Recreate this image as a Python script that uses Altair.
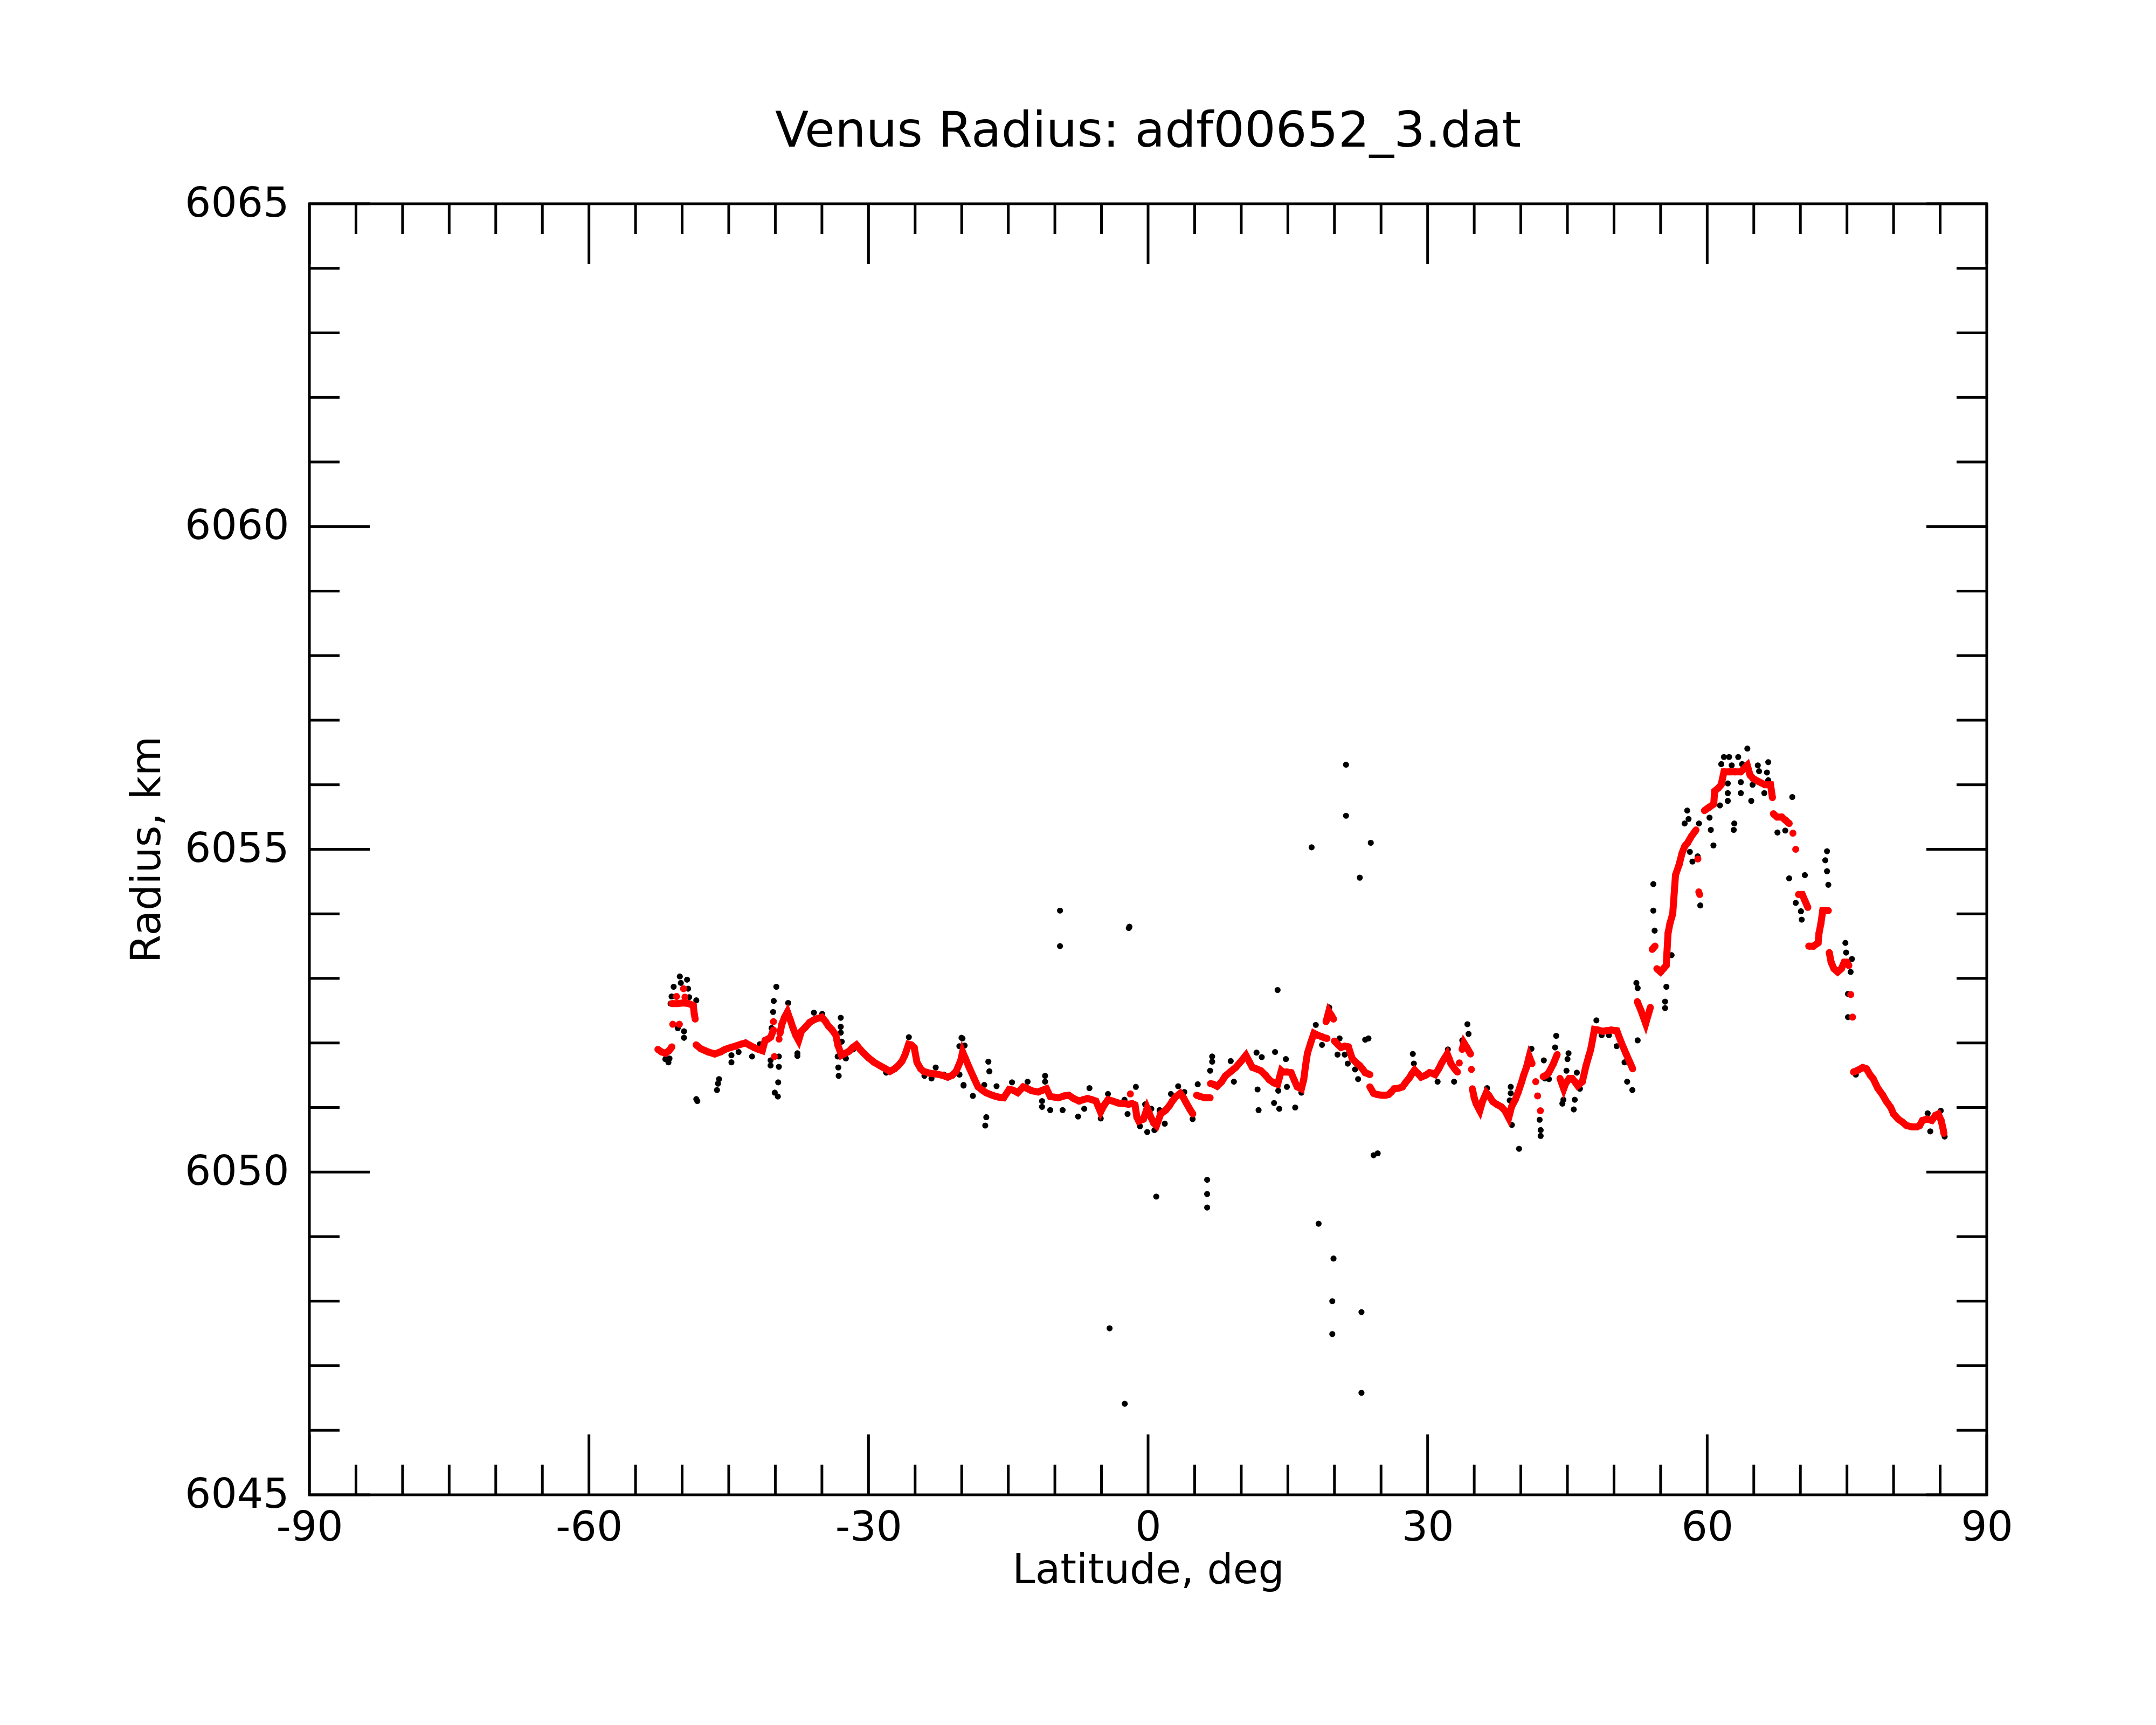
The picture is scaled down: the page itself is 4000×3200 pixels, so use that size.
import altair as alt
import pandas as pd

# ---------------- data ----------------
# filtered profile (red), broken into runs where the reference shows jumps
red_segments = [
    [(-52.6, 6051.90), (-52.2, 6051.86), (-51.8, 6051.84), (-51.4, 6051.88), (-51.1, 6051.94)],
    [(-51.0, 6052.29)], [(-50.3, 6052.29)],
    [(-51.1, 6052.61), (-50.5, 6052.61), (-49.9, 6052.62), (-49.3, 6052.61), (-48.8, 6052.58),
     (-48.7, 6052.45), (-48.6, 6052.37)],
    [(-50.6, 6052.72)], [(-49.7, 6052.71)], [(-49.85, 6052.84)],
    [(-48.5, 6051.97), (-48.0, 6051.91), (-47.2, 6051.86), (-46.5, 6051.83), (-45.9, 6051.86),
     (-45.4, 6051.90), (-44.8, 6051.93), (-44.3, 6051.95), (-43.7, 6051.98), (-43.2, 6052.00),
     (-42.7, 6051.96), (-42.3, 6051.93), (-41.8, 6051.90), (-41.4, 6051.88), (-41.1, 6052.04),
     (-40.8, 6052.06), (-40.5, 6052.09), (-40.2, 6052.20)],
    [(-40.2, 6052.33)], [(-40.1, 6051.79)], [(-39.6, 6052.06)],
    [(-39.5, 6052.15), (-39.3, 6052.29), (-39.0, 6052.40), (-38.7, 6052.48), (-38.4, 6052.36),
     (-38.1, 6052.23), (-37.8, 6052.12), (-37.5, 6052.04), (-37.2, 6052.18), (-36.8, 6052.24),
     (-36.3, 6052.32), (-35.7, 6052.37), (-35.0, 6052.40), (-34.6, 6052.33), (-34.3, 6052.26),
     (-33.9, 6052.20), (-33.5, 6052.12), (-33.3, 6051.97), (-32.9, 6051.81), (-32.5, 6051.84),
     (-32.1, 6051.87), (-31.7, 6051.93), (-31.3, 6051.97), (-30.9, 6051.90), (-30.5, 6051.84),
     (-30.0, 6051.77), (-29.4, 6051.70), (-28.8, 6051.65), (-28.3, 6051.61), (-27.7, 6051.56),
     (-27.2, 6051.60), (-26.8, 6051.65), (-26.4, 6051.72), (-26.1, 6051.81), (-25.7, 6051.98),
     (-25.4, 6051.97), (-25.1, 6051.93), (-24.8, 6051.70), (-24.4, 6051.60), (-24.1, 6051.56),
     (-23.4, 6051.53), (-22.8, 6051.52), (-22.1, 6051.50), (-21.5, 6051.47), (-21.0, 6051.50),
     (-20.6, 6051.56), (-20.1, 6051.73), (-19.9, 6051.86), (-19.6, 6051.76), (-19.2, 6051.62),
     (-18.7, 6051.46), (-18.25, 6051.32), (-17.8, 6051.27), (-17.4, 6051.23), (-16.9, 6051.20),
     (-16.5, 6051.18), (-16.0, 6051.16), (-15.5, 6051.15), (-14.9, 6051.28), (-14.5, 6051.27),
     (-14.0, 6051.23), (-13.4, 6051.32), (-12.9, 6051.29), (-12.5, 6051.26), (-11.8, 6051.24),
     (-11.3, 6051.27), (-10.9, 6051.29), (-10.5, 6051.17), (-10.0, 6051.16), (-9.6, 6051.15),
     (-9.0, 6051.18), (-8.5, 6051.19), (-8.0, 6051.14), (-7.4, 6051.10), (-7.0, 6051.12),
     (-6.5, 6051.14), (-6.0, 6051.12), (-5.6, 6051.10), (-5.1, 6050.93), (-4.7, 6051.04),
     (-4.3, 6051.12), (-3.8, 6051.10), (-3.2, 6051.07), (-2.6, 6051.06), (-2.1, 6051.05),
     (-1.7, 6051.06), (-1.4, 6051.04), (-1.2, 6050.85), (-1.0, 6050.79), (-0.5, 6050.82),
     (-0.1, 6050.99), (0.3, 6050.85), (0.6, 6050.76), (0.9, 6050.72), (1.35, 6050.90),
     (1.9, 6050.96), (2.3, 6051.03), (2.6, 6051.10), (3.0, 6051.17), (3.45, 6051.22),
     (3.8, 6051.15), (4.1, 6051.07), (4.5, 6050.97), (4.8, 6050.90)],
    [(-1.9, 6051.21)],
    [(5.2, 6051.19), (5.6, 6051.17), (6.1, 6051.15), (6.66, 6051.15)],
    [(6.7, 6051.37), (7.0, 6051.36), (7.4, 6051.33), (7.9, 6051.40), (8.3, 6051.49),
     (8.8, 6051.55), (9.4, 6051.62), (10.0, 6051.72), (10.5, 6051.81), (10.9, 6051.70),
     (11.2, 6051.62), (11.6, 6051.60), (12.1, 6051.57), (12.6, 6051.50), (13.0, 6051.43),
     (13.5, 6051.38), (13.9, 6051.36), (14.3, 6051.57), (14.46, 6051.55), (14.9, 6051.55),
     (15.35, 6051.54), (15.7, 6051.42), (16.0, 6051.32), (16.45, 6051.29), (16.7, 6051.43),
     (16.9, 6051.65), (17.1, 6051.84), (17.45, 6052.00), (17.8, 6052.15), (18.2, 6052.12),
     (18.6, 6052.10), (18.9, 6052.08), (19.2, 6052.07)],
    [(19.1, 6052.33), (19.4, 6052.49), (19.7, 6052.42), (19.9, 6052.37)],
    [(20.0, 6052.03), (20.4, 6051.97), (20.7, 6051.93), (21.1, 6051.95), (21.5, 6051.94),
     (21.9, 6051.76), (22.3, 6051.70), (22.7, 6051.65), (23.0, 6051.60), (23.3, 6051.54),
     (23.8, 6051.51)],
    [(23.8, 6051.32), (24.2, 6051.22), (24.6, 6051.20), (25.1, 6051.19), (25.5, 6051.19),
     (25.8, 6051.20), (26.1, 6051.24), (26.4, 6051.29), (26.9, 6051.30), (27.3, 6051.32),
     (27.7, 6051.40), (28.0, 6051.45), (28.3, 6051.52), (28.6, 6051.58), (29.0, 6051.52),
     (29.3, 6051.47), (29.8, 6051.50), (30.2, 6051.54), (30.5, 6051.53), (30.8, 6051.51),
     (31.2, 6051.60), (31.5, 6051.69), (31.8, 6051.76), (32.1, 6051.83), (32.3, 6051.76),
     (32.5, 6051.68), (32.9, 6051.60), (33.2, 6051.55)],
    [(33.4, 6051.69)],
    [(33.7, 6051.90), (33.9, 6052.00), (34.2, 6051.93), (34.6, 6051.83)],
    [(34.7, 6051.59)],
    [(34.8, 6051.29), (35.0, 6051.15), (35.2, 6051.06), (35.6, 6050.95), (35.9, 6051.10),
     (36.3, 6051.23), (36.6, 6051.18), (37.0, 6051.09), (37.4, 6051.05), (37.9, 6051.01),
     (38.3, 6050.95), (38.7, 6050.84), (39.0, 6051.01), (39.4, 6051.12), (39.7, 6051.23),
     (40.1, 6051.40), (40.3, 6051.50), (40.6, 6051.62), (40.9, 6051.79), (41.2, 6051.68)],
    [(41.6, 6051.40)], [(41.8, 6051.18)], [(42.1, 6050.95)],
    [(42.4, 6051.48), (42.7, 6051.50), (43.0, 6051.54), (43.5, 6051.68), (43.9, 6051.82)],
    [(44.2, 6051.45), (44.6, 6051.29), (44.8, 6051.37), (45.2, 6051.45), (45.5, 6051.45),
     (45.8, 6051.40), (46.1, 6051.34), (46.6, 6051.40), (47.0, 6051.65), (47.3, 6051.80),
     (47.5, 6051.90), (47.7, 6052.05), (47.9, 6052.21), (48.3, 6052.20), (48.8, 6052.18),
     (49.2, 6052.19), (49.7, 6052.20), (50.3, 6052.19), (50.8, 6052.00), (51.3, 6051.83),
     (51.7, 6051.70), (52.0, 6051.60)],
    [(52.5, 6052.64), (52.9, 6052.50), (53.4, 6052.30), (53.9, 6052.55)],
    [(54.1, 6053.45), (54.4, 6053.50)],
    [(54.6, 6053.15), (55.0, 6053.10), (55.3, 6053.15), (55.6, 6053.20), (55.8, 6053.70),
     (56.0, 6053.85), (56.3, 6054.00), (56.5, 6054.40), (56.6, 6054.60), (57.0, 6054.77),
     (57.3, 6054.94), (57.6, 6055.05), (57.9, 6055.10), (58.3, 6055.20), (58.8, 6055.30)],
    [(59.0, 6054.85)], [(59.1, 6054.34)], [(59.2, 6054.30)],
    [(59.7, 6055.60), (60.2, 6055.65), (60.7, 6055.70), (60.8, 6055.90), (61.2, 6055.95),
     (61.5, 6056.00), (61.8, 6056.20), (62.4, 6056.20), (63.0, 6056.20), (63.6, 6056.20),
     (64.3, 6056.30), (64.6, 6056.15), (64.9, 6056.10), (65.5, 6056.05), (66.2, 6056.00),
     (66.8, 6056.00), (67.0, 6055.80)],
    [(67.1, 6055.55), (67.5, 6055.50), (68.0, 6055.50), (68.4, 6055.45), (68.8, 6055.40)],
    [(69.2, 6055.25)], [(69.5, 6055.00)],
    [(69.8, 6054.30), (70.2, 6054.30), (70.5, 6054.20), (70.8, 6054.10)],
    [(70.9, 6053.50), (71.4, 6053.50), (71.9, 6053.55), (72.0, 6053.70), (72.2, 6053.85),
     (72.4, 6054.05), (72.7, 6054.05), (73.0, 6054.05)],
    [(73.1, 6053.40), (73.3, 6053.25), (73.6, 6053.15), (74.0, 6053.10), (74.4, 6053.15),
     (74.7, 6053.25), (75.0, 6053.25), (75.2, 6053.20)],
    [(75.4, 6052.75)], [(75.6, 6052.40)],
    [(75.7, 6051.55), (76.2, 6051.58), (76.7, 6051.62), (77.1, 6051.60), (77.5, 6051.50),
     (77.8, 6051.45), (78.3, 6051.30), (78.8, 6051.20), (79.2, 6051.10), (79.7, 6051.00),
     (80.0, 6050.90), (80.5, 6050.82), (80.9, 6050.78), (81.4, 6050.72), (82.0, 6050.70),
     (82.5, 6050.70), (82.8, 6050.72), (83.1, 6050.80), (83.6, 6050.82), (84.1, 6050.80),
     (84.5, 6050.88), (84.8, 6050.90), (85.1, 6050.80), (85.3, 6050.68), (85.4, 6050.60)],
]

# raw measurements (black) that show beside or away from the red profile
black_lat = [
    -51.8, -50.25, -49.47, -50.91, -50.14, -49.36, -51.13, -49.25, -51.24, -48.48, -50.47, -49.8,
    -49.8, -51.47, -51.36, -48.37, -48.48, -46.04, -46.15, -46.26, -44.71, -44.71, -42.5, -43.94,
    -41.66, -39.89, -40.17, -40.24, -40.4, -40.51, -40.51, -39.62, -39.62, -39.69, -40.06, -39.73,
    -38.62, -37.63, -37.63, -35.86, -34.97, -32.98, -32.98, -32.98, -32.87, -33.31, -33.24, -33.2,
    -32.43, -31.65, -28.11, -25.67, -24.0, -23.24, -22.79, -21.91, -19.92, -20.25, -19.8,
    -20.02, -19.69, -20.24, -19.8, -18.8, -17.14, -17.03, -17.36, -17.47, -17.58, -16.26, -14.6,
    -12.93, -11.05, -11.05, -11.38, -11.38, -10.5, -9.17, -7.51, -6.29, -6.85, -5.08, -4.3, -2.53,
    -2.2, -1.31, -0.87, -0.09, 0.68, 1.79, -0.31, 0.35, 1.24, 3.23, 2.45, 3.89, 4.78, 5.33, 6.88,
    6.88, 6.66, 8.87, 9.21, 11.64, 12.2, 13.63, 11.75, 11.86, 13.97, 13.52, 14.08,
    19.44, 18.0, 18.67, 14.79, 14.9, 15.79, 16.45, 20.55, 20.33, 21.1, 21.43, 22.21, 22.54, 23.65,
    24.2, 24.64, 28.41, 28.52, 31.07, 32.17, 32.84, 34.27, 34.39, 33.72, 36.38, 39.04, 38.92,
    38.92, 38.81, 39.81, 41.14, 42.02, 42.13, 42.13, 42.47, 42.58, 43.02, 43.8, 43.68, 45.12,
    45.01, 44.46, 44.57, 45.68, 45.79, 44.9, 46.01, 46.34, 48.11, 48.67,
    49.45, 50.29, 51.13, 51.41, 51.97, 52.54, 52.4, 52.54, 54.22, 54.22, 54.36, 56.18, 55.62,
    55.48, 55.48, 57.86, 58.0, 57.58, 59.12, 58.98, 58.42, 58.14, 59.26, 60.39, 60.67, 60.25,
    61.37, 62.91, 62.85, 64.31, 61.79, 62.35, 63.33, 61.51, 62.63, 63.75, 65.43, 66.55, 65.57,
    66.41, 62.21, 63.61, 64.87, 66.55, 62.21, 62.21, 63.61, 64.73, 66.13, 67.54, 68.38, 69.13,
    68.8, 70.06, 70.14, 70.48, 69.5, 72.86, 72.67, 72.86, 73.0, 74.83, 74.91, 75.53, 75.39,
    75.11, 75.11, 75.95, 78.89, 83.94, 83.66, 85.48, 85.06,
    -9.45, -9.45, -2.07, -2.0, -4.13, -2.5, 0.88, 6.34, 6.34, 6.34, 13.9, 17.55, 21.24, 21.24,
    22.72, 23.9, 18.3, 19.9, 19.77, 19.77, 22.9, 22.9, 23.3,
]
black_r = [
    6051.75, 6053.03, 6052.98, 6052.87, 6052.93, 6052.84, 6052.72, 6052.71, 6052.61, 6052.66,
    6052.23, 6052.18, 6052.08, 6051.70, 6051.76, 6051.10, 6051.13, 6051.44, 6051.37, 6051.27,
    6051.70, 6051.81, 6051.79, 6051.86, 6051.98, 6052.87, 6052.65, 6052.48, 6052.23, 6051.73,
    6051.65, 6051.79, 6051.63, 6051.39, 6051.23, 6051.17, 6052.62, 6051.84, 6051.80, 6052.47,
    6052.45, 6052.39, 6052.25, 6052.16, 6052.02, 6051.79, 6051.62, 6051.49, 6051.76, 6051.90,
    6051.54, 6052.09, 6051.49, 6051.45, 6051.62, 6051.51, 6052.07, 6051.95, 6051.34,
    6052.08, 6051.96, 6051.51, 6051.35, 6051.18, 6051.71, 6051.56, 6050.85, 6050.72, 6051.35,
    6051.33, 6051.39, 6051.40, 6051.49, 6051.40, 6051.10, 6051.01, 6050.96, 6050.96, 6050.86,
    6051.30, 6050.98, 6050.83, 6051.21, 6051.12, 6050.90, 6051.32, 6050.71, 6050.62, 6050.65,
    6050.75, 6051.05, 6050.98, 6050.96, 6051.33, 6051.21, 6051.24, 6050.82, 6051.36, 6051.79,
    6051.71, 6051.57, 6051.72, 6051.40, 6051.85, 6051.78, 6051.86, 6051.28, 6050.96, 6051.26,
    6051.07, 6050.98,
    6052.55, 6052.28, 6051.97, 6051.75, 6051.32, 6051.00, 6051.23, 6052.07, 6051.82, 6051.82,
    6051.68, 6051.59, 6051.44, 6052.07, 6050.26, 6050.29, 6051.83, 6051.68, 6051.40, 6051.90,
    6051.40, 6052.29, 6052.14, 6052.04, 6051.30, 6050.73, 6051.32, 6051.22, 6051.11, 6050.36,
    6051.91, 6050.81, 6050.65, 6050.56, 6051.73, 6051.45, 6051.44, 6052.11, 6051.93, 6051.84,
    6051.75, 6051.06, 6051.12, 6050.97, 6051.12, 6051.57, 6051.54, 6051.29, 6052.35, 6052.12,
    6052.12, 6051.95, 6051.70, 6051.40, 6051.27, 6052.04, 6052.93, 6052.85, 6054.46, 6054.05,
    6053.74, 6053.36, 6052.87, 6052.64, 6052.54, 6055.60, 6055.47, 6055.40, 6055.40, 6054.89,
    6054.81, 6054.96, 6054.13, 6055.30, 6055.06, 6055.49, 6055.68, 6055.40, 6055.30, 6056.56,
    6056.43, 6056.43, 6056.43, 6056.32, 6056.30, 6056.32, 6056.30, 6056.35, 6056.21, 6056.19,
    6056.02, 6056.04, 6056.00, 6056.07, 6055.87, 6055.75, 6055.87, 6055.75, 6055.87, 6055.26,
    6055.29, 6055.81, 6054.55, 6054.04, 6053.91, 6054.60, 6054.17, 6054.97, 6054.83, 6054.66,
    6054.45, 6053.55, 6053.40, 6053.30, 6053.10, 6052.40, 6052.76, 6051.51, 6051.19, 6050.63,
    6050.91, 6050.55, 6050.95,
    6054.05, 6053.50, 6053.78, 6053.80, 6047.58, 6046.41, 6049.62, 6049.88, 6049.66, 6049.45,
    6052.82, 6055.03, 6056.31, 6055.52, 6054.56, 6055.10, 6049.20, 6048.66, 6048.00, 6047.49,
    6047.83, 6046.58, 6052.05,
]

x_major = [-90, -60, -30, 0, 30, 60, 90]
x_minor = [v for v in range(-85, 90, 5) if v % 30 != 0]
y_major = [6045, 6050, 6055, 6060, 6065]
y_minor = [v for v in range(6046, 6065) if v % 5 != 0]

# ---------------- build tables ----------------
rows = []
for i, seg in enumerate(red_segments):
    for la, rr in seg:
        rows.append({"lat": la, "r": rr, "seg": i})
red_df = pd.DataFrame(rows)
black_df = pd.DataFrame({"lat": black_lat, "r": black_r})

W, H = 3112, 2395
FONT = "DejaVu Sans"
MAJ, MIN = 112, 56
TW = 5
LFS = 76

xs = alt.Scale(domain=[-90, 90], nice=False, zero=False)
ys = alt.Scale(domain=[6045, 6065], nice=False, zero=False)

x_axis = alt.Axis(values=x_major, labelExpr="datum.value + ''", ticks=False, domain=False,
                  grid=False, labelFont=FONT, labelFontSize=LFS, labelColor="black",
                  labelPadding=24, labelFlush=False, labelOverlap=False, labelBound=False,
                  labelLimit=1000,
                  title="Latitude, deg", titleFont=FONT, titleFontSize=76,
                  titleFontWeight="normal", titleColor="black", titleY=163,
                  titleBaseline="alphabetic")
y_axis = alt.Axis(values=y_major, labelExpr="datum.value + ''", ticks=False, domain=False,
                  grid=False, labelFont=FONT, labelFontSize=LFS, labelColor="black",
                  labelPadding=38, labelFlush=False, labelOverlap=False, labelBound=False,
                  labelLimit=1000,
                  title="Radius, km", titleFont=FONT, titleFontSize=76,
                  titleFontWeight="normal", titleColor="black", titleX=-278, titleY=H / 2,
                  titleAngle=270, titleAlign="center", titleBaseline="alphabetic")


def X():
    return alt.X("lat:Q", scale=xs, axis=x_axis)


def Y():
    return alt.Y("r:Q", scale=ys, axis=y_axis)


black = alt.Chart(black_df).mark_circle(size=125, color="black", opacity=1).encode(x=X(), y=Y())
red_line = alt.Chart(red_df).mark_line(color="#ff0000", strokeWidth=13).encode(
    x=X(), y=Y(), detail="seg:N")
red_pts = alt.Chart(red_df).mark_circle(size=170, color="#ff0000", opacity=1).encode(x=X(), y=Y())


def xticks(vals, length, top):
    d = pd.DataFrame({"lat": vals})
    if top:
        enc = dict(y=alt.value(0), y2=alt.value(length))
    else:
        enc = dict(y=alt.value(H), y2=alt.value(H - length))
    return alt.Chart(d).mark_rule(color="black", strokeWidth=TW).encode(x=X(), **enc)


def yticks(vals, length, right):
    d = pd.DataFrame({"r": vals})
    if right:
        enc = dict(x=alt.value(W), x2=alt.value(W - length))
    else:
        enc = dict(x=alt.value(0), x2=alt.value(length))
    return alt.Chart(d).mark_rule(color="black", strokeWidth=TW).encode(y=Y(), **enc)


ticks = [
    xticks(x_major, MAJ, False), xticks(x_minor, MIN, False),
    xticks(x_major, MAJ, True), xticks(x_minor, MIN, True),
    yticks(y_major, MAJ, False), yticks(y_minor, MIN, False),
    yticks(y_major, MAJ, True), yticks(y_minor, MIN, True),
]

chart = alt.layer(black, red_line, red_pts, *ticks).properties(
    width=W, height=H,
    title=alt.TitleParams("Venus Radius: adf00652_3.dat", font=FONT, fontSize=91,
                          fontWeight="normal", color="black", anchor="middle",
                          baseline="alphabetic", offset=-23),
    autosize=alt.AutoSizeParams(type="none"),
    padding={"left": 566, "top": 370, "right": 300, "bottom": 420},
    background="white",
).configure_view(stroke="black", strokeWidth=5)

chart.save("out.html", embed_options={"renderer": "svg", "actions": False})
